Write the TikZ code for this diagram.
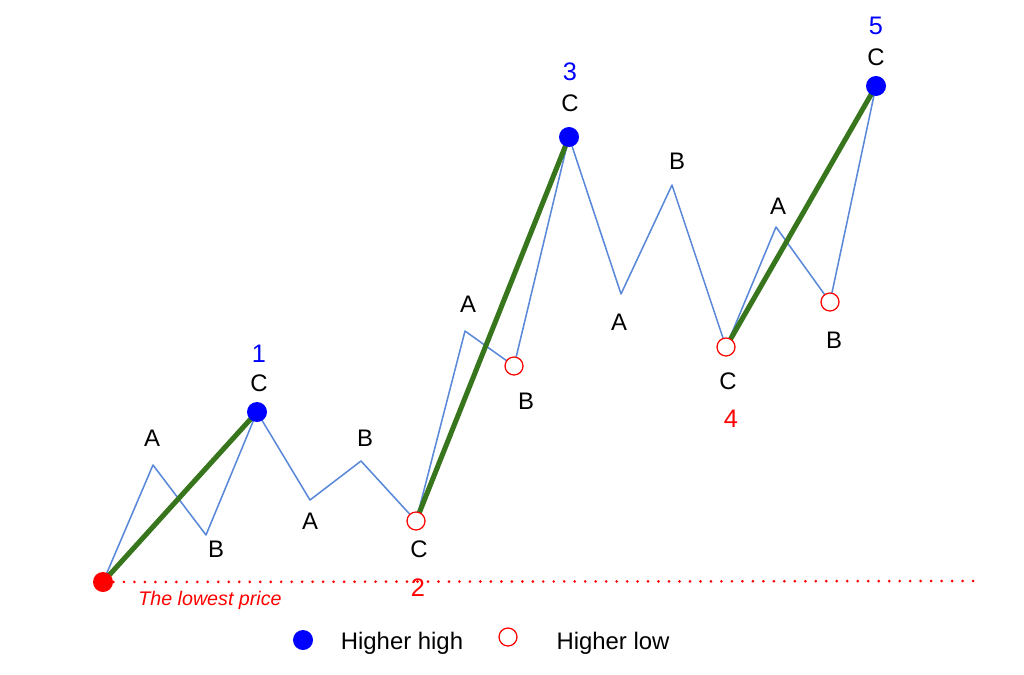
\documentclass[tikz,border=0pt]{standalone}
\usepackage{fontspec}
\setmainfont{Liberation Sans}
\usepackage{xcolor}
\usepackage{tikz}

\definecolor{waveblue}{RGB}{91,137,217}
\definecolor{trendgreen}{RGB}{56,118,29}

\tikzset{
    pivot/.style = {circle, inner sep=0pt},
    high/.style = {pivot, fill=blue, minimum size=0.5cm},
    low/.style = {pivot, draw=red, fill=white, line width=0.9pt, minimum size=0.45cm},
    lowest/.style = {pivot, fill=red, minimum size=0.5cm},
    lbl/.style = {font=\fontsize{17}{19}\selectfont},
    num/.style = {font=\fontsize{18}{20}\selectfont},
    legendtxt/.style = {font=\fontsize{17}{19}\selectfont},
    wave/.style = {draw=waveblue, line width=1.1pt, line join=round},
    trend/.style = {draw=trendgreen, line width=3.6pt},
    floor/.style = {draw=red, line width=2.1pt, line cap=round, dash pattern=on 0pt off 0.262cm}
}

\begin{document}
\begin{tikzpicture}[x=0.025cm, y=-0.025cm]
    \useasboundingbox (0,0) rectangle (1024,675);

    % turning points
    \coordinate (p0) at (103,582);
    \coordinate (a1) at (153,465);
    \coordinate (b1) at (206,535);
    \coordinate (c1) at (257,412);
    \coordinate (a2) at (310,500);
    \coordinate (b2) at (361,461);
    \coordinate (c2) at (416,521);
    \coordinate (a3) at (465,331);
    \coordinate (b3) at (514,366);
    \coordinate (c3) at (569,137);
    \coordinate (a4) at (621,294);
    \coordinate (b4) at (672,185);
    \coordinate (c4) at (726,347);
    \coordinate (a5) at (776,227);
    \coordinate (b5) at (830,302);
    \coordinate (c5) at (876,86);
    \coordinate (floorend) at (975,581);

    % lowest price line
    \draw[floor] (p0) -- (floorend);

    % price path
    \draw[wave] (p0) -- (a1) -- (b1) -- (c1) -- (a2) -- (b2) -- (c2)
        -- (a3) -- (b3) -- (c3) -- (a4) -- (b4) -- (c4)
        -- (a5) -- (b5) -- (c5);

    % trend legs
    \draw[trend] (p0) -- (c1);
    \draw[trend] (c2) -- (c3);
    \draw[trend] (c4) -- (c5);

    % markers
    \node[lowest] (m0) at (p0) {};
    \node[high] (m1) at (c1) {};
    \node[low] (m2) at (c2) {};
    \node[low] (m3b) at (b3) {};
    \node[high] (m3) at (c3) {};
    \node[low] (m4) at (c4) {};
    \node[low] (m5b) at (b5) {};
    \node[high] (m5) at (c5) {};

    % letters
    \node[lbl] (la1) at (152,438) {A};
    \node[lbl] (lb1) at (216,549) {B};
    \node[lbl] (lc1) at (259,383) {C};
    \node[lbl] (la2) at (310,521) {A};
    \node[lbl] (lb2) at (365,438) {B};
    \node[lbl] (lc2) at (419,549) {C};
    \node[lbl] (la3) at (468,304) {A};
    \node[lbl] (lb3) at (526,401) {B};
    \node[lbl] (lc3) at (570,103) {C};
    \node[lbl] (la4) at (619,322) {A};
    \node[lbl] (lb4) at (677,161) {B};
    \node[lbl] (lc4) at (728,381) {C};
    \node[lbl] (la5) at (778,206) {A};
    \node[lbl] (lb5) at (834,340) {B};
    \node[lbl] (lc5) at (876,57) {C};

    % wave numbers
    \node[num, blue] (n1) at (259,354) {1};
    \node[num, red] (n2) at (418,588) {2};
    \node[num, blue] (n3) at (570,72) {3};
    \node[num, red] (n4) at (731,419) {4};
    \node[num, blue] (n5) at (876,26) {5};

    \node[red, font=\fontsize{14}{16}\selectfont\itshape] (lowtxt) at (210,600) {The lowest price};

    % legend
    \node[high] (keyhigh) at (303,640) {};
    \node[legendtxt] (keyhightxt) at (402,643) {Higher high};
    \node[low] (keylow) at (508,637) {};
    \node[legendtxt] (keylowtxt) at (613,643) {Higher low};
\end{tikzpicture}
\end{document}
